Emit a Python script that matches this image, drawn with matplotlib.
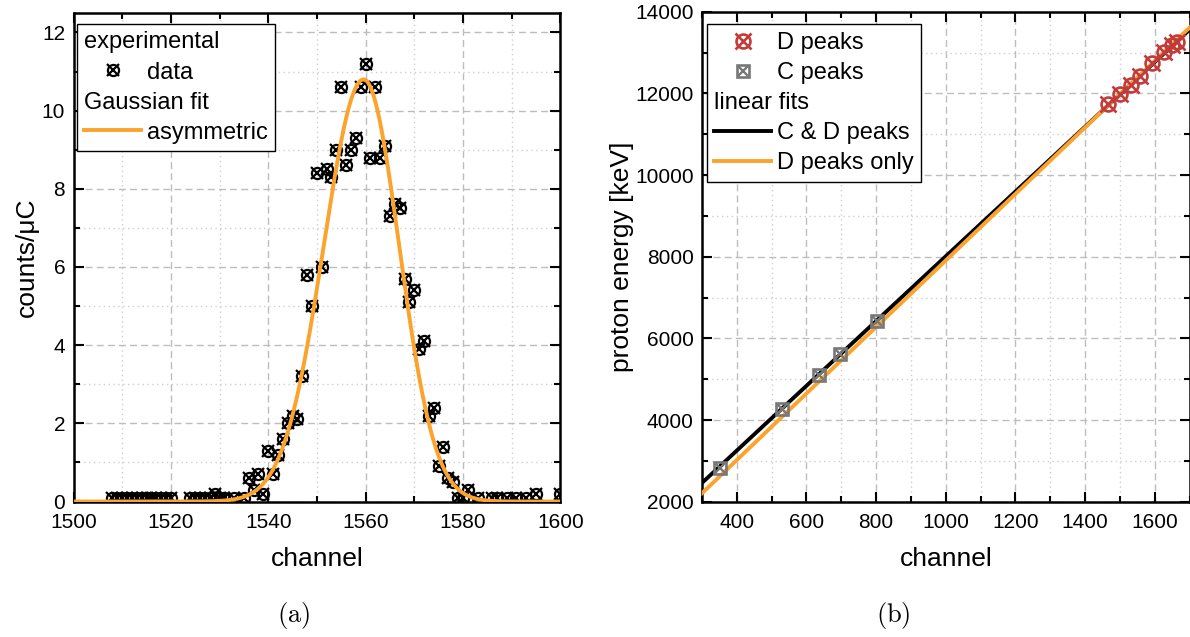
import matplotlib
matplotlib.use("Agg")
import numpy as np
import matplotlib.pyplot as plt
import matplotlib.text as mtext
from matplotlib.ticker import MultipleLocator

plt.rcParams['font.family'] = ['Liberation Sans', 'DejaVu Sans']
plt.rcParams['mathtext.fontset'] = 'cm'

# --- (a) spectrum around the peak ---
channel = [1508, 1509, 1510, 1511, 1512, 1513, 1514, 1515, 1516, 1517, 1518, 1519, 1520,
           1524, 1525, 1526, 1527, 1528, 1529, 1530, 1531, 1533, 1535,
           1536, 1537, 1538, 1539, 1540, 1541, 1542, 1543, 1544, 1545, 1546, 1547,
           1548, 1549, 1550, 1551, 1552, 1553, 1554, 1555, 1556, 1557, 1558, 1559,
           1560, 1561, 1562, 1563, 1564, 1565, 1566, 1567, 1568, 1569, 1570, 1571,
           1572, 1573, 1574, 1575, 1576, 1577, 1578, 1579, 1580, 1581,
           1583, 1586, 1587, 1589, 1591, 1593, 1595, 1600]
counts = [0.1, 0.1, 0.1, 0.1, 0.1, 0.1, 0.1, 0.1, 0.1, 0.1, 0.1, 0.1, 0.1,
          0.1, 0.1, 0.1, 0.1, 0.1, 0.2, 0.1, 0.1, 0.1, 0.1,
          0.6, 0.3, 0.7, 0.2, 1.3, 0.7, 1.2, 1.6, 2.0, 2.2, 2.1, 3.2,
          5.8, 5.0, 8.4, 6.0, 8.5, 8.3, 9.0, 10.6, 8.6, 9.0, 9.3, 10.6,
          11.2, 8.8, 10.6, 8.8, 9.1, 7.3, 7.6, 7.5, 5.7, 5.1, 5.4, 3.9,
          4.1, 2.2, 2.4, 0.9, 1.4, 0.6, 0.5, 0.1, 0.1, 0.3,
          0.1, 0.1, 0.1, 0.1, 0.1, 0.1, 0.2, 0.2]

# asymmetric gaussian fit
fit_amp = 10.8
fit_center = 1559.6
fit_sigma_left = 8.2
fit_sigma_right = 7.3

# --- (b) energy calibration ---
c_channel = [352, 531, 637, 697, 802]
c_energy = [2820, 4270, 5115, 5625, 6425]
d_channel = [1467, 1500, 1531, 1558, 1591, 1627, 1649, 1665]
d_energy = [11730, 11975, 12205, 12435, 12735, 13025, 13175, 13270]
fit_channel = [300, 1700]
fit_cd = [2460, 13560]
fit_d = [2206, 13610]

ORANGE = '#fba32c'
RED = '#c23b3b'
GRAY = '#777777'
FS_TICK = 15
FS_LABEL = 19
FS_LEG = 17


class HeaderHandler:
    # plain text line in the handle column (legend sub-headings)
    def legend_artist(self, legend, orig_handle, fontsize, handlebox):
        t = mtext.Text(0, 0, orig_handle, fontproperties=legend.prop,
                       va='baseline', ha='left')
        handlebox.add_artist(t)
        return t


def style_axes(ax, xmaj, ymaj):
    ax.xaxis.set_major_locator(MultipleLocator(xmaj))
    ax.xaxis.set_minor_locator(MultipleLocator(xmaj / 2))
    ax.yaxis.set_major_locator(MultipleLocator(ymaj))
    ax.yaxis.set_minor_locator(MultipleLocator(ymaj / 2))
    ax.tick_params(which='both', direction='in', top=True, right=True,
                   width=1.5, labelsize=FS_TICK)
    ax.tick_params(axis='x', pad=8)
    ax.tick_params(axis='y', pad=6)
    ax.tick_params(which='major', length=7)
    ax.tick_params(which='minor', length=4)
    ax.grid(which='major', color='#bdbdbd', linestyle=(0, (5, 3)), linewidth=1)
    ax.grid(which='minor', color='#cfcfcf', linestyle=(0, (1, 2.5)), linewidth=1)
    ax.set_axisbelow(True)
    for s in ax.spines.values():
        s.set_linewidth(1.8)


def legend_kw(anchor):
    return dict(handler_map={str: HeaderHandler()}, loc='upper left',
                bbox_to_anchor=anchor, borderaxespad=0, fontsize=FS_LEG,
                handlelength=2.4, handletextpad=0.25, borderpad=0.32,
                labelspacing=0.34, fancybox=False, framealpha=1, edgecolor='black')


fig = plt.figure(figsize=(11.9, 6.37), dpi=100)
ax1 = fig.add_axes([0.0618, 0.2127, 0.409, 0.767])
ax2 = fig.add_axes([0.5899, 0.2124, 0.4097, 0.7692])

# panel (a)
m_circ, = ax1.plot(channel, counts, 'o', ms=8, mfc='none', mec='black', mew=1.6, zorder=3)
m_x, = ax1.plot(channel, counts, 'x', ms=8.5, mec='black', mew=1.6, zorder=3)
xs = np.linspace(1500, 1600, 801)
sig = np.where(xs < fit_center, fit_sigma_left, fit_sigma_right)
fit_line, = ax1.plot(xs, fit_amp * np.exp(-0.5 * ((xs - fit_center) / sig) ** 2),
                     color=ORANGE, lw=2.8, zorder=4)
ax1.set_xlim(1500, 1600)
ax1.set_ylim(0, 12.5)
style_axes(ax1, 20, 2)
ax1.set_xlabel('channel', fontsize=FS_LABEL, labelpad=11)
ax1.set_ylabel('counts/μC', fontsize=FS_LABEL, labelpad=2)
leg1 = ax1.legend(['experimental', (m_circ, m_x), 'Gaussian fit', fit_line],
                  [' ', 'data', ' ', 'asymmetric'], **legend_kw((0.0066, 0.9775)))
leg1.get_frame().set_linewidth(1)

# panel (b)
l_cd, = ax2.plot(fit_channel, fit_cd, color='black', lw=2.8, zorder=3)
l_d, = ax2.plot(fit_channel, fit_d, color=ORANGE, lw=2.8, zorder=3)
d_circ, = ax2.plot(d_channel, d_energy, 'o', ms=10, mfc='none', mec=RED, mew=1.9, zorder=4)
d_x, = ax2.plot(d_channel, d_energy, 'x', ms=12, mec=RED, mew=1.9, zorder=4)
c_sq, = ax2.plot(c_channel, c_energy, 's', ms=8.5, mfc='none', mec=GRAY, mew=1.9, zorder=4)
c_x, = ax2.plot(c_channel, c_energy, 'x', ms=7, mec=GRAY, mew=1.7, zorder=4)
ax2.set_xlim(300, 1700)
ax2.set_ylim(2000, 14000)
style_axes(ax2, 200, 2000)
ax2.set_xlabel('channel', fontsize=FS_LABEL, labelpad=11)
ax2.set_ylabel('proton energy [keV]', fontsize=FS_LABEL, labelpad=1)
leg2 = ax2.legend([(d_circ, d_x), (c_sq, c_x), 'linear fits', l_cd, l_d],
                  ['D peaks', 'C peaks', ' ', 'C & D peaks', 'D peaks only'],
                  **legend_kw((0.0098, 0.974)))
leg2.get_frame().set_linewidth(1)

fig.text(0.2465, 0.034, r'$\mathrm{(a)}$', ha='center', va='center', fontsize=19)
fig.text(0.7507, 0.034, r'$\mathrm{(b)}$', ha='center', va='center', fontsize=19)

fig.savefig('out.png', dpi=100)
